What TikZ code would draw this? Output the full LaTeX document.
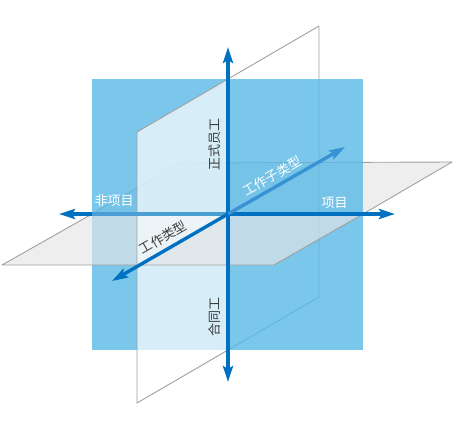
\documentclass[tikz,border=0pt]{standalone}
\usepackage{fontspec}
\newfontfamily\cjk{Noto Sans CJK SC}
\usetikzlibrary{arrows.meta}
\definecolor{axisblue}{HTML}{0070C0}
\definecolor{axismid}{HTML}{4A9ED4}
\definecolor{axisback}{HTML}{3A92D6}
\definecolor{planeblue}{RGB}{89,185,231}
\definecolor{planegray}{RGB}{230,230,230}
\definecolor{edgegray}{RGB}{160,160,160}
\definecolor{labelgray}{HTML}{3C3C3C}
\tikzset{
  edge/.style={draw=edgegray, line width=0.9pt, line join=round},
  hplane/.style={fill=planegray, fill opacity=0.65},
  vplane/.style={fill=white, fill opacity=0.7},
  bplane/.style={fill=planeblue, fill opacity=0.8},
  axisline/.style={line width=3.4pt, -{Stealth[length=16pt,width=10pt,inset=3pt]}},
  lbl/.style={font=\cjk\fontsize{13}{15}\selectfont, inner sep=0pt},
}
\begin{document}
\begin{tikzpicture}[x=1pt,y=-1pt]
\useasboundingbox[fill=white] (0,0) rectangle (454,429);
% key points
\coordinate (O) at (228,214);
\coordinate (B1) at (92,79);  \coordinate (B2) at (363,79);
\coordinate (B3) at (363,350); \coordinate (B4) at (92,350);
% horizontal plane
\coordinate (HFL) at (2,265);  \coordinate (HBL) at (180,163);
\coordinate (HBR) at (452,162); \coordinate (HFR) at (274,265);
\coordinate (HL0) at (92,214); \coordinate (HR0) at (363,214);
\coordinate (HF0) at (137,265);
% vertical plane
\coordinate (VTF) at (137,132); \coordinate (VTB) at (319,26);
\coordinate (VBB) at (319,297); \coordinate (VBF) at (137,403);
\coordinate (VT0) at (228,79);  \coordinate (VB0) at (228,350);
% axis tips
\coordinate (TU) at (228,47);  \coordinate (TD) at (228,382);
\coordinate (TL) at (59,214);  \coordinate (TR) at (395,214);
\coordinate (TF) at (112,281); \coordinate (TB) at (345,147);

% back parts
\path[hplane] (HL0) -- (HBL) -- (HBR) -- (HR0) -- cycle;
\draw[edge] (HL0) -- (HBL) -- (HBR) -- (HR0);
\draw[edge] (VT0) -- (VTB) -- (VBB) -- (VB0);
% blue plane
\path[bplane] (B1) -- (B2) -- (B3) -- (B4) -- cycle;
% front parts
\path[hplane] (HL0) -- (O) -- (HF0) -- (HFL) -- cycle;
\path[vplane] (VT0) -- (VTF) -- (VBF) -- (VB0) -- cycle;
\draw[edge] (VT0) -- (VTF) -- (VBF) -- (VB0);
\path[hplane] (O) -- (HR0) -- (HFR) -- (HF0) -- cycle;
\draw[edge] (HL0) -- (HFL) -- (HFR) -- (HR0);

% axes
\draw[axisline, axisblue] (O) -- (TL);
\draw[line width=3.4pt, axismid] (O) -- (HL0);
\draw[axisline, axisblue] (O) -- (TR);
\draw[axisline, axisblue] (O) -- (TU);
\draw[axisline, axisblue] (O) -- (TD);
\draw[axisline, axisback] (O) -- (TB);
\draw[axisline, axisblue] (O) -- (TF);

% labels
\node[lbl, text=labelgray, rotate=90] (lzs) at (214.5,144) {正式员工};
\node[lbl, text=labelgray, rotate=90] (lht) at (214.5,317) {合同工};
\node[lbl, text=white] (lfx) at (114,200.5) {非项目};
\node[lbl, text=white] (lxm) at (334.5,202.5) {项目};
\node[lbl, text=labelgray, rotate=30] (lgl) at (163,237.5) {工作类型};
\node[lbl, text=white, rotate=30] (lgz) at (272,176) {工作子类型};
\end{tikzpicture}
\end{document}
